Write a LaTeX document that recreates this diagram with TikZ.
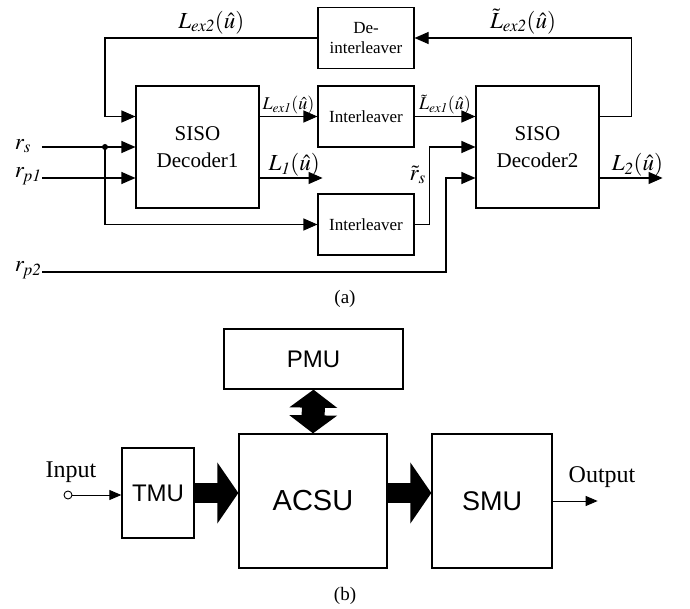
\documentclass[tikz,border=0pt]{standalone}
\usepackage{mathptmx}
\usepackage[no-math]{fontspec}
\setmainfont{Liberation Serif}
\setsansfont{Liberation Sans}
\usepackage{tikz}
\usetikzlibrary{arrows.meta}

\begin{document}
\begin{tikzpicture}[x=1pt,y=-1pt,line width=1.1pt]
    \tikzstyle{block}=[draw, inner sep=0pt, align=center, font=\fontsize{21}{27}\selectfont]
    \tikzstyle{ileave}=[block, minimum width=96pt, minimum height=61pt, font=\fontsize{17}{20}\selectfont]
    \tikzstyle{unit}=[draw, line width=1.3pt, inner sep=0pt]
    \tikzstyle{big}=[font=\fontsize{23}{23}\selectfont]
    \tikzstyle{small}=[font=\fontsize{18}{18}\selectfont, inner sep=1.5pt]
    \tikzstyle{outlab}=[font=\fontsize{23}{23}\selectfont, inner sep=1pt]
    \tikzstyle{arr}=[-{Triangle[length=14pt,width=12pt]}]
    \tikzstyle{thin arr}=[line width=0.9pt, -{Triangle[length=12pt,width=10pt]}]
    \tikzstyle{fat arr}=[line width=20pt, -{Triangle[length=21pt,width=60pt]}]

    \useasboundingbox (0,0) rectangle (690,609);

    % (a)
    \node[block, minimum width=123pt, minimum height=122pt] (dec1) at (197.5,147) {SISO\\Decoder1};
    \node[block, minimum width=123pt, minimum height=122pt] (dec2) at (537.5,147) {SISO\\Decoder2};
    \node[ileave] (deint) at (366,38) {De-\\interleaver};
    \node[ileave] (intl1) at (366,116.5) {Interleaver};
    \node[ileave] (intl2) at (366,224.5) {Interleaver};

    \node[big] (rs) at (23,146) {$r_s$};
    \node[big, anchor=base east, inner sep=0pt] (rp1) at (42,178) {$r_{\mathit{p1}}$};
    \node[big, anchor=base east, inner sep=0pt] (rp2) at (42,272) {$r_{\mathit{p2}}$};
    \coordinate (split) at (105,147);
    \coordinate (j2) at (446,272);

    \draw[arr] (deint.west) -| node[pos=.25, above, big] {$L_{\mathit{ex2}}(\hat{u})$} (split |- intl1) -- (dec1.west |- intl1);
    \draw[arr] ([xshift=7pt]dec1.west -| rs.east) -- (dec1.west);
    \fill (split) circle (3pt);
    \draw[arr] (split) |- (intl2.west);
    \draw[arr] (rp1.base east) -- (dec1.west |- rp1.base east);
    \draw[arr] (rp2.base east) -- (j2) |- (dec2.west |- rp1.base east);

    \draw[arr] (dec1.east |- intl1) -- node[above, small] {$L_{\mathit{ex1}}(\hat{u})$} (intl1.west);
    \draw[arr] (dec1.east |- rp1.base east) -- ++(63,0) node[pos=.55, above, outlab] {$L_{\mathit{1}}(\hat{u})$};
    \draw[arr] (intl1.east) -- node[above, small] {$\tilde{L}_{\mathit{ex1}}(\hat{u})$} (dec2.west |- intl1);
    \draw[arr] (intl2.east) -- ++(15,0) |- node[pos=.32, left, big] {$\tilde{r}_s$} (dec2.west);
    \draw[arr] (dec2.east |- intl1) -- ++(32,0) |- node[pos=.75, above, big] {$\tilde{L}_{\mathit{ex2}}(\hat{u})$} (deint.east);
    \draw[arr] (dec2.east |- rp1.base east) -- ++(63,0) node[pos=.6, above, outlab] {$L_{\mathit{2}}(\hat{u})$};

    \node[font=\fontsize{19}{19}\selectfont] (capa) at (345,299) {(a)};

    % (b)
    \node[unit, minimum width=179pt, minimum height=60pt, font=\sffamily\fontsize{24}{24}\selectfont] (pmu) at (313.5,359) {PMU};
    \node[unit, minimum width=148pt, minimum height=134pt, font=\sffamily\fontsize{29}{29}\selectfont] (acsu) at (313,501) {ACSU};
    \node[unit, minimum width=72pt, minimum height=90pt, font=\sffamily\fontsize{24}{24}\selectfont] (tmu) at (158,493) {TMU};
    \node[unit, minimum width=120pt, minimum height=134pt, font=\sffamily\fontsize{27}{27}\selectfont] (smu) at (492,501) {SMU};

    \node[draw, circle, minimum size=8pt, inner sep=0pt, line width=0.9pt] (in) at (68,495) {};
    \node[font=\fontsize{24}{24}\selectfont] (inlabel) at (71,472) {Input};
    \node[font=\fontsize{24}{24}\selectfont] (outlabel) at (602,477) {Output};

    \draw[thin arr] (in.east) -- (tmu.west |- in.east);
    \draw[thin arr] (smu.east) -- ++(45,0) coordinate (out);
    \draw[fat arr] (tmu.east) -- (acsu.west |- tmu.east);
    \draw[fat arr] (acsu.east |- tmu.east) -- (smu.west |- tmu.east);
    \draw[line width=23pt, {Triangle[length=18pt,width=47pt]}-{Triangle[length=18pt,width=47pt]}] (pmu.south) -- (acsu.north);

    \node[font=\fontsize{19}{19}\selectfont] (capb) at (345,596) {(b)};
\end{tikzpicture}
\end{document}
